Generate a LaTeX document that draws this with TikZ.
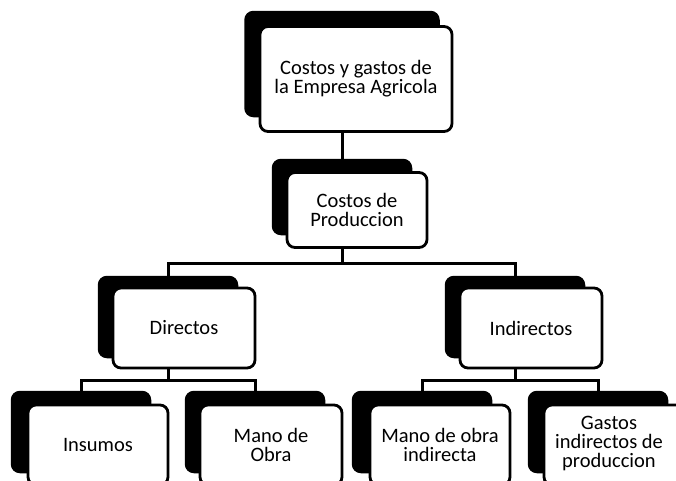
\documentclass[tikz,border=0pt]{standalone}
\usepackage{fontspec}
\setmainfont{Carlito}
\begin{document}
\begin{tikzpicture}[x=1pt,y=-1pt,
  backbox/.style={fill=black,draw=black,line width=2.5pt,rounded corners=8pt,inner sep=0pt},
  frontbox/.style={fill=white,draw=black,line width=2.8pt,rounded corners=8pt,inner sep=0pt,align=center,
    font=\fontsize{20.5}{19}\selectfont},
  conn/.style={line width=3pt,draw=black}]
\useasboundingbox (0,0) rectangle (676,480);
\clip (0,0) rectangle (676,480);
% junction coordinates
\coordinate (j1) at (342,263);
\coordinate (j2) at (168,380);
\coordinate (j3) at (515,380);
% back boxes
\node[backbox,minimum width=193pt,minimum height=104pt] (b1) at (342,64) {};
\node[backbox,minimum width=138pt,minimum height=74pt] (b2) at (342,197) {};
\node[backbox,minimum width=138pt,minimum height=80pt] (b3) at (168,317) {};
\node[backbox,minimum width=138pt,minimum height=80pt] (b4) at (515,317) {};
\node[backbox,minimum width=138pt,minimum height=80pt] (b5) at (81,432) {};
\node[backbox,minimum width=138pt,minimum height=80pt] (b6) at (255,432) {};
\node[backbox,minimum width=138pt,minimum height=80pt] (b7) at (422,432) {};
\node[backbox,minimum width=138pt,minimum height=80pt] (b8) at (598,432) {};
% connectors
\draw[conn] (b1.south) -- (b2.north);
\draw[conn] (b2.south) -- (j1);
\draw[conn] (b3.north) |- (j1) -| (b4.north);
\draw[conn] (b3.south) -- (j2);
\draw[conn] (b5.north) |- (j2) -| (b6.north);
\draw[conn] (b4.south) -- (j3);
\draw[conn] (b7.north) |- (j3) -| (b8.north);
% front boxes
\node[frontbox,minimum width=192pt,minimum height=105pt] (f1) at (356,79) {Costos y gastos de\\la Empresa Agricola};
\node[frontbox,minimum width=140pt,minimum height=75pt] (f2) at (357,210) {Costos de\\Produccion};
\node[frontbox,minimum width=142pt,minimum height=80pt] (f3) at (184,328) {Directos};
\node[frontbox,minimum width=142pt,minimum height=80pt] (f4) at (531,328) {Indirectos};
\node[frontbox,minimum width=140pt,minimum height=80pt] (f5) at (98,445) {Insumos};
\node[frontbox,minimum width=142pt,minimum height=80pt] (f6) at (271,445) {Mano de\\Obra};
\node[frontbox,minimum width=140pt,minimum height=80pt] (f7) at (440,445) {Mano de obra\\indirecta};
\node[frontbox,minimum width=140pt,minimum height=80pt] (f8) at (614,445) {};
\node[align=center,font=\fontsize{20.5}{19}\selectfont,inner sep=0pt] (t8) at (609,443) {Gastos\\indirectos de\\produccion};
\end{tikzpicture}
\end{document}
